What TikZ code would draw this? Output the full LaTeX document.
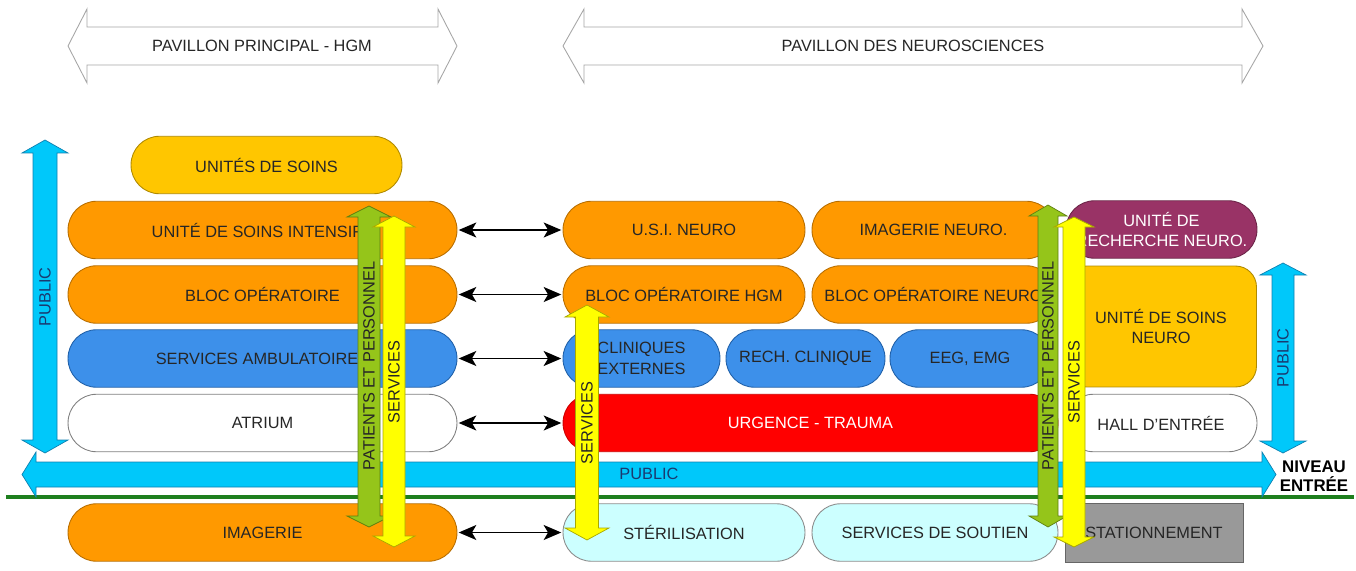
\documentclass[tikz,border=0pt]{standalone}
\usepackage{fontspec}
\setmainfont{Liberation Sans}
\usetikzlibrary{arrows.meta}
\definecolor{orng}{HTML}{FF9900}
\definecolor{orngD}{HTML}{B86E00}
\definecolor{gold}{HTML}{FFC600}
\definecolor{goldD}{HTML}{B08A00}
\definecolor{bleu}{HTML}{3D90EA}
\definecolor{bleuD}{HTML}{2060A8}
\definecolor{ciel}{HTML}{00C8FA}
\definecolor{cielD}{HTML}{1080B0}
\definecolor{lcyan}{HTML}{CCFFFF}
\definecolor{rouge}{HTML}{FF0000}
\definecolor{pourpre}{HTML}{993366}
\definecolor{vert}{HTML}{95C51A}
\definecolor{vertD}{HTML}{5F8010}
\definecolor{jaune}{HTML}{FFFF00}
\definecolor{jauneD}{HTML}{A8A800}
\definecolor{gris}{HTML}{999999}
\definecolor{ligne}{HTML}{1E7F1E}
\definecolor{txt}{HTML}{262626}
\definecolor{navy}{HTML}{1A3A70}
\newcommand\dblV[7]{%
 \path[#7] (#1,#2) -- ({#1+#5},{#2+#6}) -- ({#1+#4},{#2+#6}) -- ({#1+#4},{#3-#6}) -- ({#1+#5},{#3-#6}) -- (#1,#3) -- ({#1-#5},{#3-#6}) -- ({#1-#4},{#3-#6}) -- ({#1-#4},{#2+#6}) -- ({#1-#5},{#2+#6}) -- cycle;}
\newcommand\dblH[7]{%
 \path[#7] (#2,#1) -- ({#2+#6},{#1-#5}) -- ({#2+#6},{#1-#4}) -- ({#3-#6},{#1-#4}) -- ({#3-#6},{#1-#5}) -- (#3,#1) -- ({#3-#6},{#1+#5}) -- ({#3-#6},{#1+#4}) -- ({#2+#6},{#1+#4}) -- ({#2+#6},{#1+#5}) -- cycle;}
\begin{document}
\begin{tikzpicture}[x=0.02cm,y=-0.02cm,
  every node/.style={font=\fontsize{9.3}{11.8}\selectfont, text=txt},
  pill/.style={inner sep=0pt, outer sep=0pt, minimum height=1.15cm, rounded corners=0.57cm, align=center, line width=0.5pt},
  orbox/.style={pill, fill=orng, draw=orngD},
  blbox/.style={pill, fill=bleu, draw=bleuD},
  whbox/.style={pill, fill=white, draw=black!50},
  lcbox/.style={pill, fill=lcyan, draw=black!45},
  conn/.style={line width=1.1pt, black, arrows={Stealth[length=10pt,width=8.5pt,inset=2.5pt]-Stealth[length=10pt,width=8.5pt,inset=2.5pt]}, shorten <=1pt, shorten >=1pt},
  hollow/.style={fill=white, draw=black!35, line width=0.5pt},
  cyanarr/.style={fill=ciel, draw=cielD, line width=0.4pt},
  vertarr/.style={fill=vert, draw=vertD, line width=0.4pt},
  jaunearr/.style={fill=jaune, draw=jauneD, line width=0.4pt},
  arrtxt/.style={inner sep=0pt, rotate=90}
]
\useasboundingbox (0,0) rectangle (1356,571);

% top pavilion arrows
\dblH{46}{68}{457}{19}{37}{19}{hollow}
\dblH{46}{563}{1263}{19}{37}{21}{hollow}
\node (pavP) at (262,46) {PAVILLON PRINCIPAL - HGM};
\node (pavN) at (913,46) {PAVILLON DES NEUROSCIENCES};

% ground line
\coordinate (gl1) at (6,497);
\coordinate (gl2) at (1354,497);
\draw[ligne, line width=1.8pt] (gl1) -- (gl2);

% left column
\node[pill, fill=gold, draw=goldD, minimum width=5.42cm] (soins) at (266.5,165) {UNITÉS DE SOINS};
\node[orbox, minimum width=7.78cm] (usi) at (262.5,230) {UNITÉ DE SOINS INTENSIFS};
\node[orbox, minimum width=7.78cm] (bloc) at (262.5,294.5) {BLOC OPÉRATOIRE};
\node[blbox, minimum width=7.78cm] (amb) at (262.5,358.5) {SERVICES AMBULATOIRES};
\node[whbox, minimum width=7.78cm] (atr) at (262.5,423) {ATRIUM};
\node[orbox, minimum width=7.78cm] (imag) at (262.5,532.5) {IMAGERIE};

% middle column
\node[orbox, minimum width=4.84cm] (usin) at (684,230) {U.S.I. NEURO};
\node[orbox, minimum width=4.86cm] (imgn) at (933.5,230) {IMAGERIE NEURO.};
\node[orbox, minimum width=4.84cm] (bloch) at (684,294.5) {BLOC OPÉRATOIRE HGM};
\node[orbox, minimum width=4.86cm] (blocn) at (933.5,294.5) {BLOC OPÉRATOIRE NEURO};
\node[blbox, minimum width=3.14cm] (clin) at (641.5,358.5) {CLINIQUES\\EXTERNES};
\node[blbox, minimum width=3.18cm] (rech) at (805.5,358.5) {RECH. CLINIQUE};
\node[blbox, minimum width=3.2cm] (eeg) at (970,358.5) {EEG, EMG};
\node[pill, fill=rouge, draw=rouge!80!black, minimum width=9.9cm, text=white] (urg) at (810.5,423) {URGENCE - TRAUMA};
\node[lcbox, minimum width=4.84cm] (steri) at (684,532.5) {STÉRILISATION};
\node[lcbox, minimum width=4.92cm] (sout) at (935,532.5) {SERVICES DE SOUTIEN};
\node[inner sep=0pt, fill=gris, draw=black!60, line width=0.5pt, minimum width=3.56cm, minimum height=1.18cm] (stat) at (1154,532.5) {STATIONNEMENT};

% right column
\node[pill, fill=pourpre, draw=pourpre!70!black, minimum width=3.82cm, text=white] (rechn) at (1161.5,229.5) {UNITÉ DE\\RECHERCHE NEURO.};
\node[inner sep=0pt, fill=gold, draw=goldD, line width=0.5pt, rounded corners=0.42cm, minimum width=3.82cm, minimum height=2.42cm, align=center] (usn) at (1161,326.5) {UNITÉ DE SOINS\\NEURO};
\node[whbox, minimum width=3.84cm] (hall) at (1161,423) {HALL D'ENTRÉE};

% connectors
\draw[conn] (usi.east) -- (usin.west);
\draw[conn] (bloc.east) -- (bloch.west);
\draw[conn] (amb.east) -- (clin.west);
\draw[conn] (atr.east) -- (urg.west);
\draw[conn] (imag.east) -- (steri.west);

% public arrows
\dblH{474.5}{22}{1276}{12.5}{22.5}{14}{cyanarr}
\node (pubH) at (649,473.5) [text=navy] {PUBLIC};
\dblV{45}{140}{453}{12}{23}{13}{cyanarr}
\node[arrtxt, text=navy] (pubL) at (45,297) {PUBLIC};
\dblV{1283}{263}{453}{11}{23}{12}{cyanarr}
\node[arrtxt, text=navy] (pubR) at (1283,358) {PUBLIC};
\node[font=\bfseries\fontsize{9.6}{10.8}\selectfont, text=black, align=center, inner sep=0pt] (niv) at (1314,476.5) {NIVEAU\\ENTRÉE};

% patients / services arrows
\dblV{369}{206}{527}{11}{22}{11}{vertarr}
\node[arrtxt] (patL) at (369,366) {PATIENTS ET PERSONNEL};
\dblV{394}{216}{547}{11}{21}{11}{jaunearr}
\node[arrtxt] (serL) at (394,382) {SERVICES};
\dblV{587}{305}{540}{11.5}{22}{12}{jaunearr}
\node[arrtxt] (serM) at (587,423) {SERVICES};
\dblV{1048}{205}{527}{10}{19}{11}{vertarr}
\node[arrtxt] (patR) at (1048,366) {PATIENTS ET PERSONNEL};
\dblV{1074}{217}{547}{11}{20}{10}{jaunearr}
\node[arrtxt] (serR) at (1074,382) {SERVICES};
\end{tikzpicture}
\end{document}
